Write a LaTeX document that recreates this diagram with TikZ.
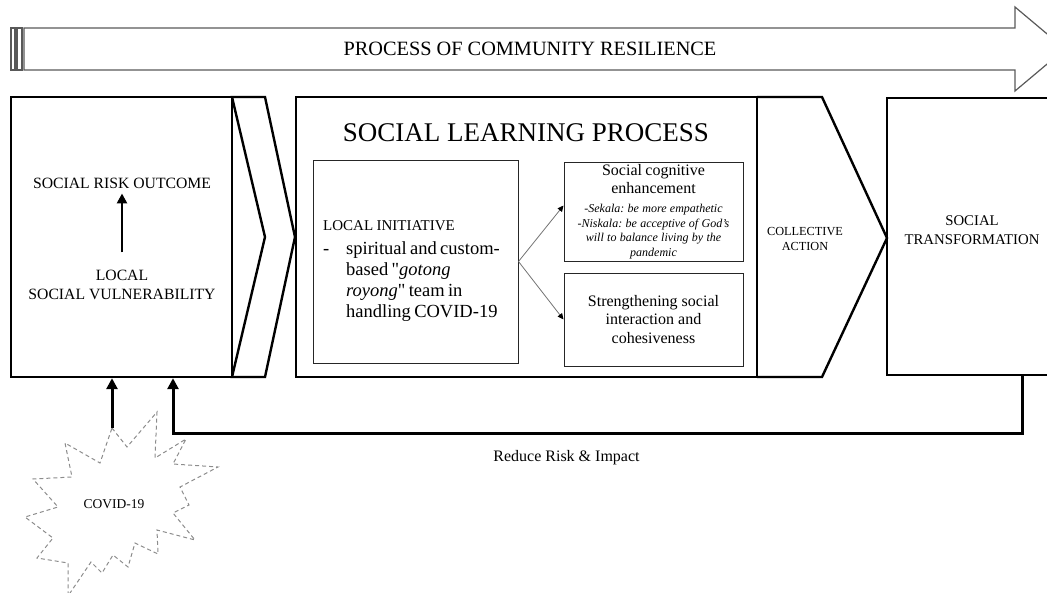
\documentclass[tikz,border=0pt]{standalone}
\usepackage{fontspec}
\setmainfont{Liberation Serif}[Ligatures=TeXOff]
\usetikzlibrary{arrows.meta}
\frenchspacing
\begin{document}
\begin{tikzpicture}[x=1pt,y=-1pt,
  thickline/.style={line width=2.4pt, line join=miter},
  bigbox/.style={draw, line width=2.4pt, inner sep=0pt},
  thinbox/.style={draw=black!85, line width=1pt, inner sep=2pt},
  bigarrow/.style={line width=3pt, -{Triangle[width=11pt,length=11pt]}},
  midarrow/.style={line width=2.6pt, -{Triangle[width=10pt,length=10pt]}},
  smallarrow/.style={draw=black!55, line width=0.8pt, -{Triangle[width=5.5pt,length=6pt,color=black]}},
  banner/.style={draw=black!65, line width=1.2pt},
  txt/.style={inner sep=0pt, align=center},
  starline/.style={draw=black!45, line width=1pt, dash pattern=on 4pt off 3pt},
]
\useasboundingbox (0,0) rectangle (1047,592);
\clip (0,0) rectangle (1047,592);

% top banner arrow
\draw[banner] (11,28) rectangle (15,70);
\draw[banner] (17,28) rectangle (22,70);
\draw[banner] (24,28) -- (1015,28) -- (1015,7) -- (1065,49) -- (1015,91) -- (1015,70) -- (24,70) -- cycle;
\node[txt, font=\fontsize{20.3}{24}\selectfont] (bannertext) at (530,49) {PROCESS OF COMMUNITY RESILIENCE};

% left box
\node[bigbox, minimum width=221pt, minimum height=280pt] (lbox) at (121.5,237) {};
\draw[thickline] (232,97) -- (265,97) -- (295,237) -- (265,377) -- (232,377) -- (265,237) -- cycle;
\node[txt, font=\fontsize{15.7}{19}\selectfont] (risk) at (122,183) {SOCIAL RISK OUTCOME};
\node[txt, font=\fontsize{15.7}{19}\selectfont] (vuln) at (122,284.5) {LOCAL\\SOCIAL VULNERABILITY};
\draw[midarrow, shorten <=17pt, shorten >=5pt] (vuln.north) -- (risk.south);

% social learning process
\node[bigbox, minimum width=461pt, minimum height=280pt] (slp) at (526.5,237) {};
\node[txt, font=\fontsize{27}{32}\selectfont] (slptitle) at (526,133) {SOCIAL LEARNING PROCESS};

\node[thinbox, minimum width=205pt, minimum height=203pt] (libox) at (415.5,261.5) {};
\node[inner sep=0pt, anchor=north west, text width=200pt, align=left] (litext) at (323,220) {%
{\fontsize{15}{18}\selectfont LOCAL INITIATIVE\par}\vspace{3pt}%
{\fontsize{18.5}{21}\selectfont
\makebox[23pt][l]{-}spiritual and custom-\\
\hspace*{23pt}based "\textit{gotong}\\
\hspace*{23pt}\textit{royong}" team in\\
\hspace*{23pt}handling COVID-19\par}};

\node[thinbox, minimum width=179pt, minimum height=99pt, text width=175pt, align=center] (sce) at (653.5,211.5) {%
{\fontsize{16}{18}\selectfont Social cognitive\\enhancement\par}\vspace{5pt}%
{\itshape\fontsize{12}{14.5}\selectfont -Sekala: be more empathetic\\-Niskala: be acceptive of God’s\\will to balance living by the\\pandemic\par}};

\node[thinbox, minimum width=179pt, minimum height=93pt, align=center, font=\fontsize{16}{18.5}\selectfont] (str) at (653.5,319.5) {Strengthening social\\interaction and\\cohesiveness};

\draw[smallarrow] (libox.east) -- ([yshift=6pt]sce.west);
\draw[smallarrow] (libox.east) -- (str.west);

% collective action
\draw[thickline] (757,97) -- (822,97) -- (887,238) -- (822,377) -- (757,377);
\node[txt, font=\fontsize{12.3}{15}\selectfont] (coll) at (805,238.5) {COLLECTIVE\\ACTION};

% social transformation
\node[bigbox, minimum width=173pt, minimum height=277pt] (stbox) at (973.5,236.5) {};
\node[txt, font=\fontsize{14.8}{19}\selectfont] (sttext) at (972,230.5) {SOCIAL\\TRANSFORMATION};

% feedback
\coordinate (fbA) at (1022,375);
\coordinate (fbB) at (173,433);
\draw[bigarrow] (fbA) |- (fbB) -- (fbB |- lbox.south);
\node[txt, font=\fontsize{16}{19}\selectfont] (reduce) at (566.5,458) {Reduce Risk \& Impact};

% covid star
\draw[starline] (112,428) -- (127,447) -- (157,412) -- (155,458) -- (186,439) -- (173,464) -- (218,467) -- (180,487) -- (189,505) -- (173,513) -- (195,540) -- (157,530) -- (158,554) -- (135,543) -- (128,567) -- (113,555) -- (102,573) -- (91,562) -- (68,596) -- (68,563) -- (37,558) -- (53,538) -- (25,517) -- (58,507) -- (33,479) -- (72,477) -- (65,443) -- (100,463) -- cycle;
\node[txt, font=\fontsize{13.5}{16}\selectfont] (covid) at (114,504) {COVID-19};
\coordinate (covtop) at (112,428);
\draw[bigarrow] (covtop) -- (covtop |- lbox.south);
\end{tikzpicture}
\end{document}
